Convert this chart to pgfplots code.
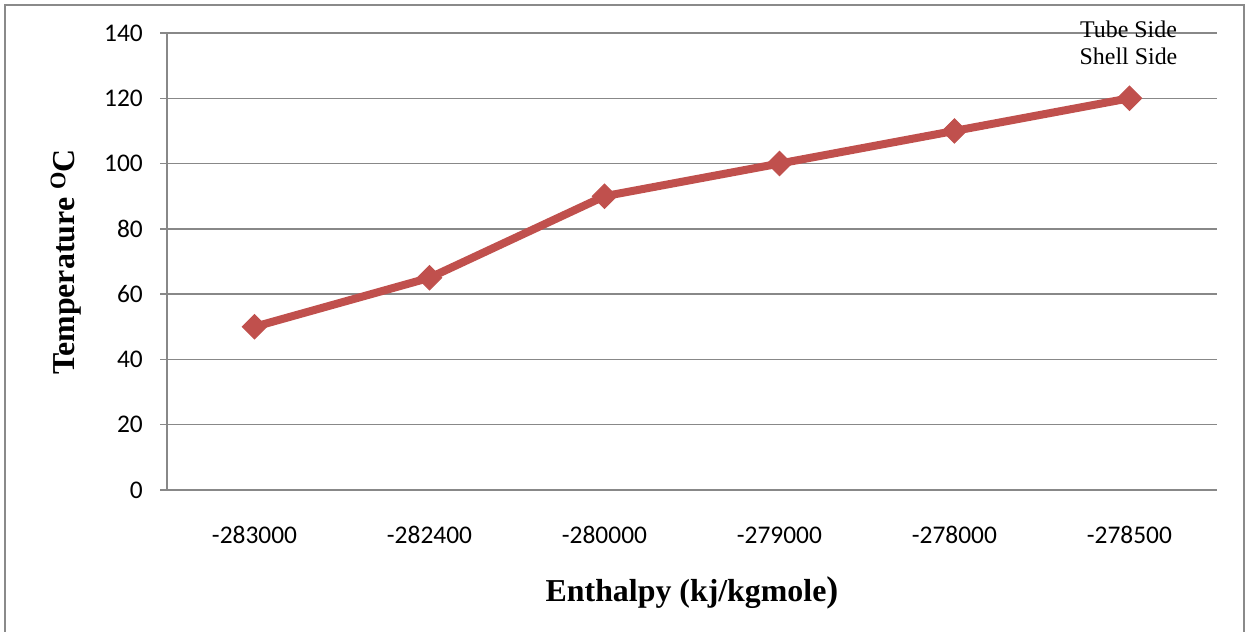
\documentclass[border=0pt]{standalone}
\usepackage{pgfplots}
\pgfplotsset{compat=1.18}
\usepackage{fontspec}
\setmainfont{Liberation Serif}
\newfontfamily\calib{Carlito}
\definecolor{exred}{HTML}{C0504D}
\definecolor{gridgray}{HTML}{888888}
\definecolor{framegray}{HTML}{8A8A8A}
\begin{document}
\begin{tikzpicture}[x=1bp,y=1bp]
\useasboundingbox (0,0) rectangle (1247,632);
\draw[framegray, line width=2bp] (5,-10) -- (5,627) -- (1244,627) -- (1244,-10);
\begin{axis}[
  at={(167bp,142bp)}, anchor=south west,
  scale only axis, width=1050bp, height=457bp,
  xmin=-0.5, xmax=5.5, ymin=0, ymax=140,
  axis x line=bottom, axis y line=left,
  axis line style={gridgray, line width=1.4bp, -},
  xtick={0,1,2,3,4,5},
  xticklabels={-283000,-282400,-280000,-279000,-278000,-278500},
  ytick={0,20,...,140},
  x tick style={draw=none},
  y tick style={gridgray, line width=1.4bp},
  ytick align=outside, major tick length=7bp,
  ymajorgrids, grid style={gridgray, line width=1.4bp},
  tick label style={font=\fontsize{25.5}{30}\selectfont\calib},
  /pgf/number format/assume math mode=true,
  yticklabel style={anchor=east, inner sep=0pt, xshift=-17bp},
  xticklabel style={anchor=base, inner sep=0pt, yshift=-50bp},
  clip=false,
]
\addplot[exred, line width=8bp, mark=square*, mark size=8.6bp,
  mark options={rotate=45, line width=1bp, fill=exred, draw=exred}]
  coordinates {(0,50) (1,65) (2,90) (3,100) (4,110) (5,120)};
\end{axis}
\node[font=\fontsize{32}{38}\selectfont\bfseries] at (692,39) {Enthalpy (kj/kgmole{\fontsize{36}{38}\selectfont)}};
\node[font=\fontsize{32}{38}\selectfont\bfseries, rotate=90] at (66,370) {Temperature \textsuperscript{O}C};
\node[font=\fontsize{24}{27}\selectfont, align=center, inner sep=0pt] at (1128.5,589.5) {Tube Side\\Shell Side};
\end{tikzpicture}
\end{document}
